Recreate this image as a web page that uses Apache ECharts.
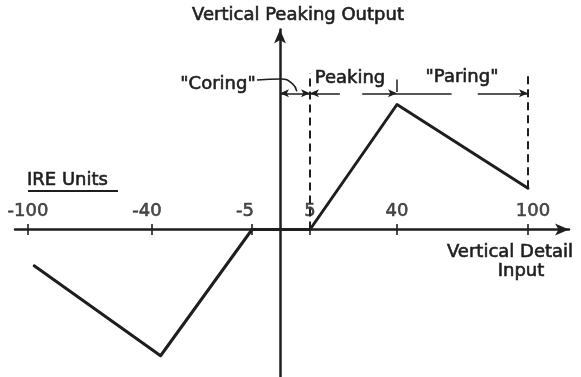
<!DOCTYPE html>
<html>
<head>
<meta charset="utf-8">
<script src="https://cdn.jsdelivr.net/npm/echarts@6/dist/echarts.min.js"></script>
<style>
  html, body { margin: 0; padding: 0; background: #fff; }
  #b { width: 581px; height: 377px; }
</style>
</head>
<body>
<div id="b"></div>
<script>
// data (IRE units in, arbitrary output units)
var inputIRE  = [-97, -37, -5, 5, 40, 100];
var outputVal = [-29, -101, 0, 0, 100, 33];
var tickValues = [-100, -40, -5, 5, 40, 100];
var tickLabels = ['-100', '-40', '-5', '5', '40', '100'];
var labelShift = [0, -5, -7, 0, 0, 5];

// the drawing's x axis is not linear: spacing of each IRE knot on screen
var ireKnots = [-100, -40, -5, 0, 5, 40, 100];
var axisPos  = [-252, -128, -28, 0, 30, 117, 248];

function toPos(v){
  for (var i = 0; i < ireKnots.length - 1; i++) {
    if (v <= ireKnots[i+1] || i == ireKnots.length - 2) {
      var t = (v - ireKnots[i]) / (ireKnots[i+1] - ireKnots[i]);
      return axisPos[i] + t * (axisPos[i+1] - axisPos[i]);
    }
  }
}

var ink = '#1e1e1e';
var font = 'DejaVu Sans';
var fs = '18px ';

var curve = inputIRE.map(function(x, i){ return [toPos(x), outputVal[i]]; });

// ticks cross the axis, labels sit above it
var ticks = tickValues.map(function(v, i){
  return {
    value: [toPos(v), 0],
    label: { formatter: tickLabels[i], offset: [labelShift[i], 0] }
  };
});

// region markers: [fromIRE, toIRE, y, start symbol, end symbol]
var dims = [
  [0, 5, 109, 'arrow', 'arrow'],
  [5, 17, 109, 'arrow', 'none'],
  [26, 40, 109, 'none', 'arrow'],
  [40, 65, 109, 'none', 'none'],
  [77, 100, 109, 'none', 'arrow']
];
var dashes = [[5, 0, 125], [100, 33, 126]];
// leader from "Coring" down to the marker line
var leaderIRE = [-4.1, 0.2, 2.1, 2.8];
var leaderVal = [119.6, 120.5, 116.5, 110.5];

var myChart = echarts.init(document.getElementById('b'));
var dimLines = dims.map(function(d){
  return [{coord: [toPos(d[0]), d[2]], symbol: d[3]}, {coord: [toPos(d[1]), d[2]], symbol: d[4]}];
});
dimLines.push([{coord: [toPos(40), 110], symbol: 'none'}, {coord: [toPos(40), 120], symbol: 'none'}]);
var dashLines = dashes.map(function(d){
  return [{coord: [toPos(d[0]), d[1]], symbol: 'none'}, {coord: [toPos(d[0]), d[2]], symbol: 'none'}];
});

function txt(s, x, y, align){
  return { type: 'text', x: x, y: y, style: { text: s, fill: ink, stroke: ink, lineWidth: 0.6,
    font: fs + font, align: align || 'center', verticalAlign: 'middle' } };
}

option = {
  animation: false,
  backgroundColor: '#fff',
  grid: { left: 15, right: 12, top: 29.5, bottom: 0, containLabel: false },
  xAxis: {
    type: 'value', min: -265, max: 289,
    axisLine: { onZero: true, lineStyle: { color: ink, width: 2.5 }, symbol: ['none', 'arrow'], symbolSize: [9, 14] },
    axisTick: { show: false },
    axisLabel: { show: false },
    splitLine: { show: false }
  },
  yAxis: {
    type: 'value', min: -118, max: 160,
    axisLine: { onZero: true, lineStyle: { color: ink, width: 2.5 }, symbol: ['none', 'arrow'], symbolSize: [9, 14] },
    axisTick: { show: false },
    axisLabel: { show: false },
    splitLine: { show: false }
  },
  series: [
    {
      type: 'line',
      data: curve,
      showSymbol: false,
      lineStyle: { color: ink, width: 3, join: 'round', cap: 'round' },
      markLine: {
        silent: true,
        symbolSize: [6, 9],
        label: { show: false },
        lineStyle: { color: ink, width: 1.5, type: 'solid' },
        data: dimLines
      }
    },
    {
      type: 'line',
      data: leaderIRE.map(function(x, i){ return [toPos(x), leaderVal[i]]; }),
      showSymbol: false,
      smooth: 0.5,
      lineStyle: { color: ink, width: 1.5 },
      markLine: {
        silent: true,
        symbol: 'none',
        label: { show: false },
        lineStyle: { color: ink, width: 2, type: [8, 5] },
        data: dashLines
      }
    },
    {
      type: 'scatter',
      data: ticks,
      symbol: 'rect',
      symbolSize: [2, 11],
      itemStyle: { color: ink },
      label: { show: true, position: 'top', distance: 4, color: ink, fontFamily: font, fontSize: 18,
        textBorderColor: ink, textBorderWidth: 0.6 }
    }
  ],
  graphic: [
    txt('Vertical Peaking Output', 298, 15),
    txt('"Coring"', 218, 84),
    txt('Peaking', 350, 78),
    txt('"Paring"', 462, 77),
    txt('IRE Units', 27, 180, 'left'),
    { type: 'line', shape: { x1: 28, y1: 191, x2: 118, y2: 191 }, style: { stroke: ink, lineWidth: 2 } },
    txt('Vertical Detail', 510, 252),
    txt('Input', 521, 271)
  ]
};
option && myChart.setOption(option);
window.addEventListener("resize", function() {
  myChart.resize();
});
</script>
</body>
</html>
